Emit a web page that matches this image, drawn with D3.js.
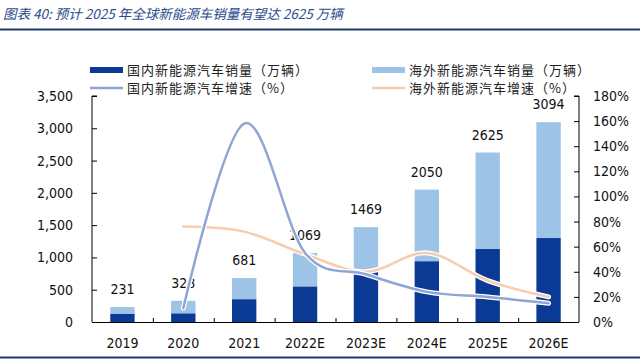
<!DOCTYPE html>
<html><head><meta charset="utf-8">
<script src="https://cdn.jsdelivr.net/npm/d3@7"></script>
<style>
html,body{margin:0;padding:0;background:#fff;}
svg{display:block;}
</style></head>
<body>
<svg id="c" width="640" height="359"></svg>
<script>
const categories = ["2019","2020","2021","2022E","2023E","2024E","2025E","2026E"];
const domesticSales = [124, 132, 352, 548, 770, 940, 1130, 1300];
const totalSales = [231, 328, 681, 1069, 1469, 2050, 2625, 3094];
const domesticGrowthCats = ["2020","2021","2022E","2023E","2024E","2025E","2026E"];
const domesticGrowth = [11, 158, 55, 38, 24, 20, 15];
const overseasGrowthCats = ["2020","2021","2022E","2023E","2024E","2025E","2026E"];
const overseasGrowth = [76, 72, 54, 40, 55, 33, 20];
const leftTicks = [0,500,1000,1500,2000,2500,3000,3500];
const rightTicks = [0,20,40,60,80,100,120,140,160,180];
const legendLabels = ["国内新能源汽车销量（万辆）","海外新能源汽车销量（万辆）","国内新能源汽车增速（%）","海外新能源汽车增速（%）"];
const titleText = "图表 40:  预计 2025 年全球新能源车销量有望达 2625 万辆";

const C_DARK = "#0A3A94", C_LIGHT = "#9DC3E6", C_DLINE = "#8FA6D4", C_OLINE = "#F7CDB0";
const numFont = "'DejaVu Sans Condensed','DejaVu Sans',sans-serif";
const cjkFont = "'Noto Sans CJK SC',sans-serif";

const svg = d3.select("#c");
const L = 92, R = 579, T = 96, B = 322;

const x = d3.scaleBand().domain(categories).range([L, R]).padding(0);
const yL = d3.scaleLinear().domain([0, 3500]).range([B, T]);
const yR = d3.scaleLinear().domain([0, 180]).range([B, T]);
const bw = x.bandwidth() * 0.4;
const cx = d => x(d) + x.bandwidth() / 2;

// title
svg.append("text").attr("x", 3).attr("y", 19).text(titleText)
  .attr("font-family", cjkFont).attr("font-size", 13.5).attr("font-style", "italic")
  .attr("fill", "#2A4B8D");
svg.append("line").attr("x1", 0).attr("x2", 640).attr("y1", 29.5).attr("y2", 29.5)
  .attr("stroke", "#1F3864").attr("stroke-width", 2);
svg.append("line").attr("x1", 0).attr("x2", 640).attr("y1", 357.5).attr("y2", 357.5)
  .attr("stroke", "#1F3864").attr("stroke-width", 2);

// legend
const legend = [
  {x: 90, y: 70, type: "rect", color: C_DARK, label: legendLabels[0]},
  {x: 372, y: 70, type: "rect", color: C_LIGHT, label: legendLabels[1]},
  {x: 90, y: 88, type: "line", color: C_DLINE, label: legendLabels[2]},
  {x: 372, y: 88, type: "line", color: C_OLINE, label: legendLabels[3]}
];
legend.forEach(l => {
  if (l.type === "rect") {
    svg.append("rect").attr("x", l.x).attr("y", l.y - 3).attr("width", 33).attr("height", 6).attr("fill", l.color);
  } else {
    svg.append("line").attr("x1", l.x).attr("x2", l.x + 33).attr("y1", l.y).attr("y2", l.y)
      .attr("stroke", l.color).attr("stroke-width", 2.5);
  }
  svg.append("text").attr("x", l.x + 37).attr("y", l.y).attr("dy", "0.36em").text(l.label)
    .attr("font-family", cjkFont).attr("font-size", 13).attr("fill", "#222")
    .attr("letter-spacing", 1);
});

// bars
const g = svg.append("g");
categories.forEach((c, i) => {
  g.append("rect").attr("x", cx(c) - bw / 2).attr("width", bw)
    .attr("y", yL(totalSales[i])).attr("height", yL(domesticSales[i]) - yL(totalSales[i]))
    .attr("fill", C_LIGHT);
  g.append("rect").attr("x", cx(c) - bw / 2).attr("width", bw)
    .attr("y", yL(domesticSales[i])).attr("height", B - yL(domesticSales[i]))
    .attr("fill", C_DARK);
  g.append("text").attr("x", cx(c)).attr("y", yL(totalSales[i]) - 18).attr("dy", "0.36em")
    .attr("text-anchor", "middle").text(totalSales[i])
    .attr("font-family", numFont).attr("font-size", 14).attr("fill", "#111");
});

// lines
const curve = d3.curveCardinal.tension(0);
function drawLine(cats, vals, color) {
  const pts = cats.map((c, i) => [cx(c), yR(vals[i])]);
  const line = d3.line().curve(curve);
  svg.append("path").attr("d", line(pts)).attr("fill", "none")
    .attr("stroke", "#fff").attr("stroke-width", 5).attr("stroke-linecap", "round");
  svg.append("path").attr("d", line(pts)).attr("fill", "none")
    .attr("stroke", color).attr("stroke-width", 2.5).attr("stroke-linecap", "round");
}
drawLine(overseasGrowthCats, overseasGrowth, C_OLINE);
drawLine(domesticGrowthCats, domesticGrowth, C_DLINE);

// axes
const axL = svg.append("g").attr("transform", `translate(${L},0)`)
  .call(d3.axisRight(yL).tickValues(leftTicks).tickSize(5).tickFormat(""));
const axR = svg.append("g").attr("transform", `translate(${R},0)`)
  .call(d3.axisLeft(yR).tickValues(rightTicks).tickSize(5).tickFormat(""));
[axL, axR].forEach(a => { a.selectAll("path,line").attr("stroke", "#000").attr("stroke-width", 1); });
axL.select(".domain").attr("d", `M5,${T}H0V${B}`);
axR.select(".domain").attr("d", `M-5,${T}H0V${B}`);

leftTicks.forEach(v => {
  svg.append("text").attr("x", 73).attr("y", yL(v)).attr("dy", "0.36em").attr("text-anchor", "end")
    .text(d3.format(",")(v)).attr("font-family", numFont).attr("font-size", 14).attr("fill", "#111");
});
rightTicks.forEach(v => {
  svg.append("text").attr("x", 593).attr("y", yR(v)).attr("dy", "0.36em")
    .text(v + "%").attr("font-family", numFont).attr("font-size", 14).attr("fill", "#111");
});

// x axis
svg.append("line").attr("x1", L).attr("x2", R).attr("y1", B + 0.5).attr("y2", B + 0.5).attr("stroke", "#000");
categories.slice(1).forEach(c => {
  svg.append("line").attr("x1", x(c) + 0.5).attr("x2", x(c) + 0.5).attr("y1", B).attr("y2", B - 4).attr("stroke", "#000");
});
categories.forEach(c => {
  svg.append("text").attr("x", cx(c)).attr("y", 343).attr("dy", "0.36em").attr("text-anchor", "middle")
    .text(c).attr("font-family", numFont).attr("font-size", 14).attr("fill", "#111");
});
</script>
</body></html>
